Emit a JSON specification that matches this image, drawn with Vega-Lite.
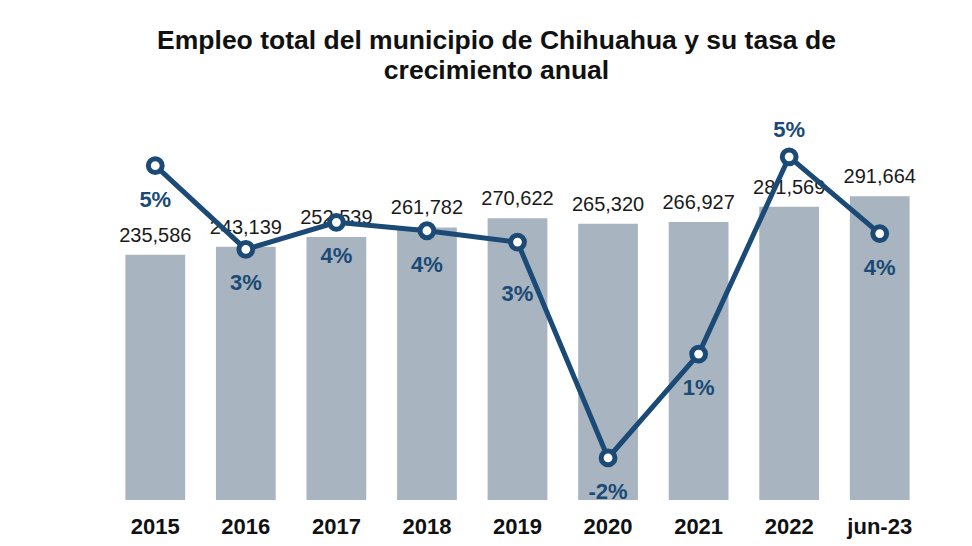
{
  "$schema": "https://vega.github.io/schema/vega-lite/v6.json",
  "autosize": "none",
  "width": 815,
  "height": 380,
  "padding": {"left": 110, "top": 120, "right": 47, "bottom": 46},
  "background": "white",
  "config": {"view": {"stroke": null}, "font": "Liberation Sans"},
  "title": {
    "text": ["Empleo total del municipio de Chihuahua y su tasa de", "crecimiento anual"],
    "fontSize": 26.5,
    "fontWeight": "bold",
    "font": "Liberation Sans",
    "color": "#111111",
    "lineHeight": 30,
    "anchor": "middle",
    "dx": -21,
    "offset": 34
  },
  "data": {
    "values": [
      {"year": "2015", "empleo": 235586, "tasa": 5.27, "label": "5%"},
      {"year": "2016", "empleo": 243139, "tasa": 3.2, "label": "3%"},
      {"year": "2017", "empleo": 252539, "tasa": 3.87, "label": "4%"},
      {"year": "2018", "empleo": 261782, "tasa": 3.66, "label": "4%"},
      {"year": "2019", "empleo": 270622, "tasa": 3.38, "label": "3%"},
      {"year": "2020", "empleo": 265320, "tasa": -1.96, "label": "-2%"},
      {"year": "2021", "empleo": 266927, "tasa": 0.61, "label": "1%"},
      {"year": "2022", "empleo": 281569, "tasa": 5.49, "label": "5%"},
      {"year": "jun-23", "empleo": 291664, "tasa": 3.59, "label": "4%"}
    ]
  },
  "encoding": {
    "x": {
      "field": "year",
      "type": "nominal",
      "sort": null,
      "scale": {"paddingInner": 0.34, "paddingOuter": 0.17},
      "axis": {
        "title": null,
        "labelAngle": 0,
        "labelFontSize": 22,
        "labelFontWeight": "bold",
        "labelColor": "#111111",
        "labelPadding": 16,
        "ticks": false,
        "domain": false
      }
    }
  },
  "layer": [
    {
      "layer": [
        {
          "mark": {"type": "bar", "color": "#a8b4bf"},
          "encoding": {
            "y": {"field": "empleo", "type": "quantitative", "scale": {"domain": [0, 365000]}, "axis": null}
          }
        },
        {
          "mark": {"type": "text", "fontSize": 20, "color": "#1a1a1a", "baseline": "alphabetic", "dy": -13},
          "encoding": {
            "y": {"field": "empleo", "type": "quantitative", "scale": {"domain": [0, 365000]}, "axis": null},
            "text": {"field": "empleo", "type": "quantitative", "format": ","}
          }
        }
      ]
    },
    {
      "layer": [
        {
          "mark": {"type": "line", "color": "#1a4a75", "strokeWidth": 5},
          "encoding": {
            "y": {"field": "tasa", "type": "quantitative", "scale": {"domain": [-3, 6.4]}, "axis": null}
          }
        },
        {
          "mark": {"type": "point", "filled": true, "fill": "white", "stroke": "#1a4a75", "strokeWidth": 5, "size": 190, "opacity": 1},
          "encoding": {
            "y": {"field": "tasa", "type": "quantitative", "scale": {"domain": [-3, 6.4]}, "axis": null}
          }
        },
        {
          "transform": [{"filter": "datum.year !== '2022' && datum.year !== '2019'"}],
          "mark": {"type": "text", "fontSize": 22, "fontWeight": "bold", "color": "#1a4a75", "baseline": "middle", "dy": 34},
          "encoding": {
            "y": {"field": "tasa", "type": "quantitative", "scale": {"domain": [-3, 6.4]}, "axis": null},
            "text": {"field": "label"}
          }
        },
        {
          "transform": [{"filter": "datum.year === '2019'"}],
          "mark": {"type": "text", "fontSize": 22, "fontWeight": "bold", "color": "#1a4a75", "baseline": "middle", "dy": 52},
          "encoding": {
            "y": {"field": "tasa", "type": "quantitative", "scale": {"domain": [-3, 6.4]}, "axis": null},
            "text": {"field": "label"}
          }
        },
        {
          "transform": [{"filter": "datum.year === '2022'"}],
          "mark": {"type": "text", "fontSize": 22, "fontWeight": "bold", "color": "#1a4a75", "baseline": "middle", "dy": -27},
          "encoding": {
            "y": {"field": "tasa", "type": "quantitative", "scale": {"domain": [-3, 6.4]}, "axis": null},
            "text": {"field": "label"}
          }
        }
      ]
    }
  ],
  "resolve": {"scale": {"y": "independent"}}
}
